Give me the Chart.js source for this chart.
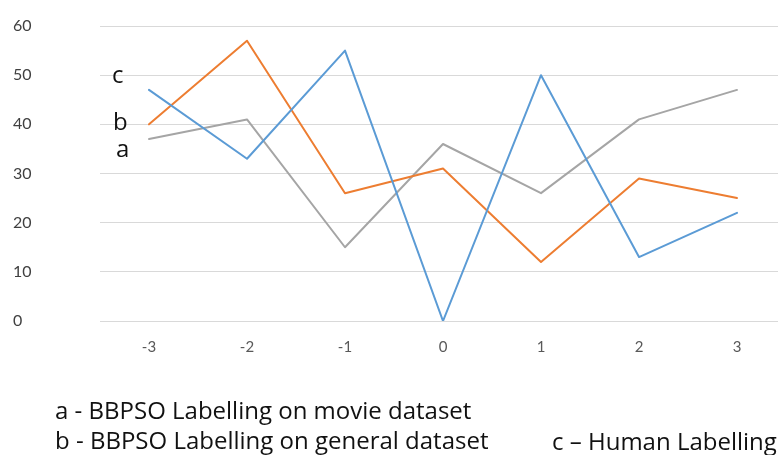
<!DOCTYPE html>
<html>
<head>
<meta charset="utf-8">
<script src="https://cdn.jsdelivr.net/npm/chart.js@4.4.1/dist/chart.umd.min.js"></script>
<style>
  html, body { margin: 0; padding: 0; background: #fff; overflow: hidden; }
  #wrap { position: relative; width: 778px; height: 455px; overflow: hidden; background: #fff; }
  #c { position: absolute; left: 0; top: 0; }
  .t { position: absolute; font-family: "Open Sans", Lato, sans-serif; font-size: 24px; line-height: 26px; color: #111; white-space: nowrap; }
</style>
</head>
<body>
<div id="wrap">
  <canvas id="c" width="790" height="455"></canvas>
  <div class="t" style="left:112px; top:61px;">c</div>
  <div class="t" style="left:113px; top:108px;">b</div>
  <div class="t" style="left:116px; top:135px;">a</div>
  <div class="t" style="left:55px; top:397px;">a - BBPSO Labelling on movie dataset</div>
  <div class="t" style="left:55px; top:427px;">b - BBPSO Labelling on general dataset</div>
  <div class="t" style="left:552px; top:428px;">c – Human Labelling</div>
</div>
<script>
// Score positions along the x axis
const categories = ['-3', '-2', '-1', '0', '1', '2', '3'];
// c – Human Labelling
const humanLabelling = [47, 33, 55, 0, 50, 13, 22];
// b - BBPSO Labelling on general dataset
const generalBBPSO = [40, 57, 26, 31, 12, 29, 25];
// a - BBPSO Labelling on movie dataset
const movieBBPSO = [37, 41, 15, 36, 26, 41, 47];
// y axis ticks
const yTicks = [0, 10, 20, 30, 40, 50, 60];

new Chart(document.getElementById('c'), {
  type: 'line',
  data: {
    labels: categories,
    datasets: [
      { label: 'c', data: humanLabelling, borderColor: '#5b9bd5', backgroundColor: '#5b9bd5' },
      { label: 'b', data: generalBBPSO, borderColor: '#ed7d31', backgroundColor: '#ed7d31' },
      { label: 'a', data: movieBBPSO, borderColor: '#a5a5a5', backgroundColor: '#a5a5a5' }
    ]
  },
  options: {
    responsive: false,
    animation: false,
    layout: { padding: { left: 13, right: 4, top: 26, bottom: 0 } },
    plugins: { legend: { display: false }, tooltip: { enabled: false } },
    elements: {
      point: { radius: 0 },
      line: { tension: 0, borderWidth: 2, borderCapStyle: 'round', borderJoinStyle: 'round' }
    },
    scales: {
      x: {
        offset: true,
        grid: { display: false, drawTicks: false },
        border: { display: false },
        ticks: { color: '#595959', font: { family: 'Lato', size: 15 }, padding: 17 },
        afterFit(s) { s.height = 134; }
      },
      y: {
        min: 0,
        max: 60,
        afterBuildTicks(s) { s.ticks = yTicks.map(v => ({ value: v })); },
        grid: { color: '#d9d9d9', lineWidth: 1, drawTicks: false },
        border: { display: false },
        ticks: { crossAlign: 'far', color: '#404040', font: { family: 'Lato', size: 16 }, padding: 0 },
        afterFit(s) { s.width = 87; }
      }
    }
  }
});
</script>
</body>
</html>
